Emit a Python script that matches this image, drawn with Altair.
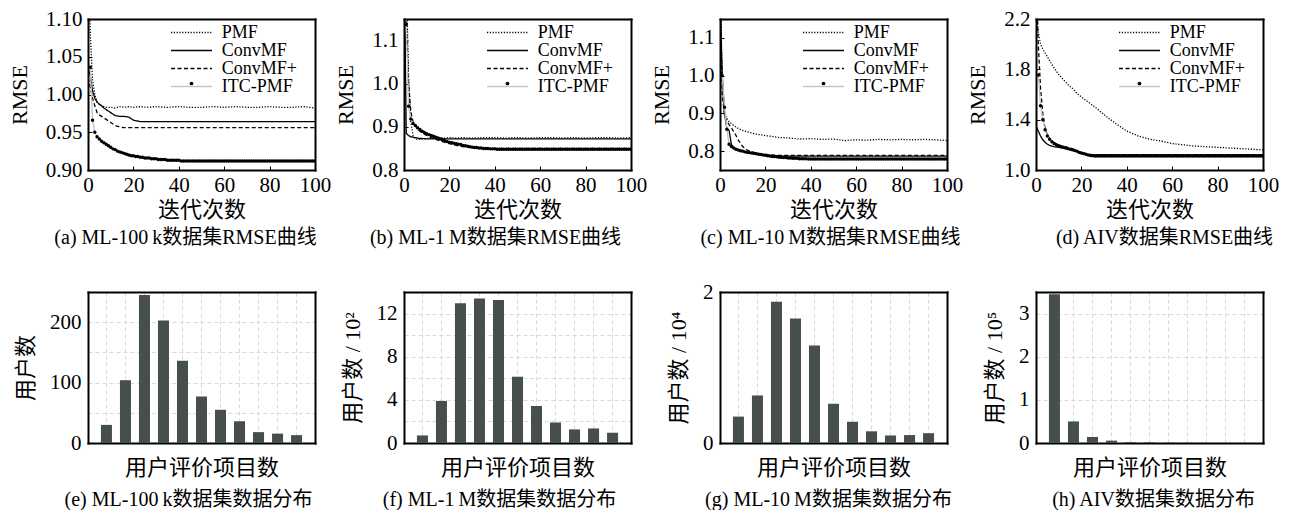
import altair as alt
import pandas as pd

FONT = "Liberation Serif, Noto Sans CJK SC"
SERIES = ["PMF", "ConvMF", "ConvMF+", "ITC-PMF"]
SERIES_STROKE = ["black", "black", "black", "#c4c4c4"]
SERIES_DASH = [[1.2, 1.6], [1, 0], [4, 2.5], [1, 0]]
X_TICKS = [0, 20, 40, 60, 80, 100]

# iteration positions of the sampled line points
GRID = [0, 1, 2, 3, 4, 5, 6, 7, 8, 10, 12, 14, 16, 18, 20, 23, 26, 30, 35, 40,
        45, 50, 55, 60, 65, 70, 75, 80, 85, 90, 95, 100]
ITERS = list(range(1, 101))

# ---------------- (a) ML-100k ----------------
PMF_A = [1.25, 1.08, 1.02, 1.000, 0.990, 0.987, 0.985, 0.984, 0.983, 0.983, 0.982, 0.984,
         0.983, 0.984, 0.983, 0.984, 0.983, 0.984, 0.983, 0.984, 0.983, 0.983, 0.984, 0.983,
         0.984, 0.983, 0.983, 0.984, 0.983, 0.983, 0.984, 0.982]
CONV_A = [1.036, 1.025, 1.005, 0.995, 0.990, 0.987, 0.985, 0.982, 0.980, 0.976, 0.972, 0.971,
          0.971, 0.970, 0.966, 0.964, 0.964, 0.964, 0.964, 0.964, 0.964, 0.964, 0.964, 0.964,
          0.964, 0.964, 0.964, 0.964, 0.964, 0.964, 0.964, 0.964]
CONVP_A = [1.022, 1.010, 0.995, 0.985, 0.976, 0.973, 0.971, 0.969, 0.967, 0.963, 0.959, 0.957,
           0.956, 0.956, 0.956, 0.956, 0.956, 0.956, 0.956, 0.956, 0.956, 0.956, 0.956, 0.956,
           0.956, 0.956, 0.956, 0.956, 0.956, 0.956, 0.956, 0.956]
ITC_A = [1.036, 0.966, 0.950, 0.944, 0.941, 0.938, 0.936, 0.934, 0.932, 0.930,
         0.928, 0.927, 0.925, 0.924, 0.923, 0.922, 0.921, 0.920, 0.919, 0.919,
         0.918, 0.918, 0.917, 0.917, 0.916, 0.916, 0.916, 0.915, 0.915, 0.915,
         0.914, 0.914, 0.914, 0.914, 0.913, 0.913, 0.913, 0.913, 0.913, 0.913,
         0.912, 0.912, 0.912, 0.912, 0.912, 0.912, 0.912, 0.912, 0.912, 0.912,
         0.912, 0.912, 0.912, 0.912, 0.912, 0.912, 0.912, 0.912, 0.912, 0.912,
         0.912, 0.912, 0.912, 0.912, 0.912, 0.912, 0.912, 0.912, 0.912, 0.912,
         0.912, 0.912, 0.912, 0.912, 0.912, 0.912, 0.912, 0.912, 0.912, 0.912,
         0.912, 0.912, 0.912, 0.912, 0.912, 0.912, 0.912, 0.912, 0.912, 0.912,
         0.912, 0.912, 0.912, 0.912, 0.912, 0.912, 0.912, 0.912, 0.912, 0.912]

# ---------------- (b) ML-1M ----------------
PMF_B = [1.40, 1.25, 1.02, 0.910, 0.880, 0.872, 0.871, 0.871, 0.872, 0.873, 0.874, 0.874,
         0.875, 0.874, 0.875, 0.874, 0.875, 0.874, 0.875, 0.875, 0.874, 0.875, 0.874, 0.875,
         0.875, 0.874, 0.875, 0.874, 0.875, 0.875, 0.874, 0.875]
CONV_B = [1.30, 0.885, 0.880, 0.877, 0.876, 0.875, 0.874, 0.873, 0.873, 0.872, 0.872, 0.872,
          0.872, 0.872, 0.872, 0.872, 0.872, 0.872, 0.872, 0.872, 0.872, 0.872, 0.872, 0.872,
          0.872, 0.872, 0.872, 0.872, 0.872, 0.872, 0.872, 0.872]
CONVP_B = [1.40, 1.16, 1.00, 0.935, 0.912, 0.902, 0.895, 0.890, 0.886, 0.880, 0.875, 0.871,
           0.867, 0.864, 0.861, 0.857, 0.854, 0.852, 0.850, 0.850, 0.850, 0.850, 0.850, 0.850,
           0.850, 0.850, 0.850, 0.850, 0.850, 0.850, 0.850, 0.850]
ITC_B = [1.137, 0.948, 0.918, 0.908, 0.903, 0.898, 0.894, 0.890, 0.887, 0.884,
         0.882, 0.880, 0.878, 0.876, 0.874, 0.872, 0.870, 0.868, 0.866, 0.864,
         0.863, 0.862, 0.861, 0.860, 0.859, 0.857, 0.856, 0.855, 0.854, 0.853,
         0.852, 0.852, 0.851, 0.851, 0.850, 0.850, 0.850, 0.849, 0.849, 0.849,
         0.848, 0.848, 0.848, 0.848, 0.848, 0.848, 0.848, 0.848, 0.848, 0.848,
         0.848, 0.848, 0.848, 0.848, 0.848, 0.848, 0.848, 0.848, 0.848, 0.848,
         0.848, 0.848, 0.848, 0.848, 0.848, 0.848, 0.848, 0.848, 0.848, 0.848,
         0.848, 0.848, 0.848, 0.848, 0.848, 0.848, 0.848, 0.848, 0.848, 0.848,
         0.848, 0.848, 0.848, 0.848, 0.848, 0.848, 0.848, 0.848, 0.848, 0.848,
         0.848, 0.848, 0.848, 0.848, 0.848, 0.848, 0.848, 0.848, 0.848, 0.848]

# ---------------- (c) ML-10M ----------------
PMF_C = [1.30, 0.97, 0.90, 0.887, 0.878, 0.873, 0.868, 0.864, 0.860, 0.855, 0.851, 0.848,
         0.845, 0.843, 0.841, 0.839, 0.836, 0.835, 0.832, 0.833, 0.831, 0.832, 0.828, 0.830,
         0.829, 0.831, 0.830, 0.831, 0.830, 0.831, 0.830, 0.828]
CONV_C = [1.20, 1.00, 0.90, 0.860, 0.855, 0.818, 0.810, 0.806, 0.804, 0.800, 0.797, 0.795,
          0.793, 0.791, 0.789, 0.788, 0.787, 0.787, 0.787, 0.787, 0.787, 0.787, 0.787, 0.787,
          0.787, 0.787, 0.787, 0.787, 0.787, 0.787, 0.787, 0.787]
CONVP_C = [1.20, 0.95, 0.895, 0.880, 0.870, 0.862, 0.852, 0.842, 0.830, 0.812, 0.803, 0.798,
           0.795, 0.793, 0.791, 0.790, 0.789, 0.789, 0.789, 0.789, 0.789, 0.789, 0.789, 0.789,
           0.789, 0.789, 0.789, 0.789, 0.789, 0.789, 0.789, 0.789]
ITC_C = [1.000, 0.916, 0.858, 0.818, 0.812, 0.808, 0.805, 0.803, 0.801, 0.800,
         0.798, 0.797, 0.796, 0.795, 0.794, 0.793, 0.792, 0.791, 0.790, 0.789,
         0.788, 0.787, 0.786, 0.786, 0.785, 0.784, 0.784, 0.783, 0.783, 0.782,
         0.782, 0.781, 0.781, 0.781, 0.780, 0.780, 0.780, 0.780, 0.779, 0.779,
         0.779, 0.779, 0.779, 0.779, 0.779, 0.779, 0.779, 0.779, 0.779, 0.779,
         0.779, 0.779, 0.779, 0.779, 0.779, 0.779, 0.779, 0.779, 0.779, 0.779,
         0.779, 0.779, 0.779, 0.779, 0.779, 0.779, 0.779, 0.779, 0.779, 0.779,
         0.779, 0.779, 0.779, 0.779, 0.779, 0.779, 0.779, 0.779, 0.779, 0.779,
         0.779, 0.779, 0.779, 0.779, 0.779, 0.779, 0.779, 0.779, 0.779, 0.779,
         0.779, 0.779, 0.779, 0.779, 0.779, 0.779, 0.779, 0.779, 0.779, 0.779]

# ---------------- (d) AIV ----------------
PMF_D = [2.30, 2.10, 2.00, 1.96, 1.93, 1.90, 1.87, 1.84, 1.81, 1.76, 1.72, 1.68,
         1.65, 1.61, 1.58, 1.54, 1.50, 1.44, 1.37, 1.31, 1.27, 1.245, 1.23, 1.21,
         1.20, 1.19, 1.185, 1.18, 1.175, 1.17, 1.165, 1.16]
CONV_D = [1.35, 1.31, 1.27, 1.24, 1.22, 1.205, 1.195, 1.19, 1.185, 1.18, 1.175, 1.17,
          1.16, 1.15, 1.135, 1.12, 1.12, 1.12, 1.12, 1.12, 1.12, 1.12, 1.12, 1.12,
          1.12, 1.12, 1.12, 1.12, 1.12, 1.12, 1.12, 1.12]
CONVP_D = [2.60, 2.00, 1.65, 1.45, 1.33, 1.28, 1.25, 1.23, 1.215, 1.20, 1.19, 1.18,
           1.17, 1.155, 1.14, 1.125, 1.12, 1.12, 1.12, 1.12, 1.12, 1.12, 1.12, 1.12,
           1.12, 1.12, 1.12, 1.12, 1.12, 1.12, 1.12, 1.12]
ITC_D = [1.755, 1.510, 1.400, 1.320, 1.270, 1.245, 1.225, 1.210, 1.200, 1.190,
         1.185, 1.180, 1.175, 1.170, 1.165, 1.160, 1.155, 1.150, 1.140, 1.135,
         1.130, 1.125, 1.120, 1.116, 1.113, 1.112, 1.112, 1.112, 1.112, 1.112,
         1.112, 1.112, 1.112, 1.112, 1.112, 1.112, 1.112, 1.112, 1.112, 1.112,
         1.112, 1.112, 1.112, 1.112, 1.112, 1.112, 1.112, 1.112, 1.112, 1.112,
         1.112, 1.112, 1.112, 1.112, 1.112, 1.112, 1.112, 1.112, 1.112, 1.112,
         1.112, 1.112, 1.112, 1.112, 1.112, 1.112, 1.112, 1.112, 1.112, 1.112,
         1.112, 1.112, 1.112, 1.112, 1.112, 1.112, 1.112, 1.112, 1.112, 1.112,
         1.112, 1.112, 1.112, 1.112, 1.112, 1.112, 1.112, 1.112, 1.112, 1.112,
         1.112, 1.112, 1.112, 1.112, 1.112, 1.112, 1.112, 1.112, 1.112, 1.112]

# ---------------- bar charts (user counts per rating-count bin) ----------------
BINS = [1, 2, 3, 4, 5, 6, 7, 8, 9, 10, 11]
USERS_E = [30, 104, 245, 203, 136, 77, 55, 36, 18, 15.5, 13]
USERS_F = [0.7, 3.9, 12.95, 13.4, 13.25, 6.15, 3.42, 1.9, 1.26, 1.35, 0.95]
USERS_G = [0.35, 0.63, 1.87, 1.65, 1.29, 0.52, 0.28, 0.155, 0.10, 0.105, 0.13]
USERS_H = [3.45, 0.5, 0.14, 0.055, 0.02, 0.015, 0.008, 0.005, 0.004, 0.003, 0.002]

BAR_COLOR = "#464e4e"
W, H = 227, 151


def frame_axis(orient):
    # top / right axes that only draw their domain line: closes the plot frame
    return alt.Axis(orient=orient, labels=False, ticks=False, grid=False, title=None,
                    domain=True, domainColor="black", domainWidth=2, domainCap="square")


def tick_axis(orient, values):
    # short inward-pointing ticks (axis pulled 4 px into the plot, ticks point back out)
    return alt.Axis(orient=orient, values=values, labels=False, ticks=True, tickSize=4,
                    offset=-4, domain=False, grid=False, title=None)


def caption(text, dx, offset):
    return alt.TitleParams(text=text, orient="bottom", anchor="middle", frame="group",
                           dx=dx, offset=offset, font=FONT, fontSize=20,
                           fontWeight="normal", color="black")


def rmse_panel(pmf, conv, convp, itc, ydom, yticks, yfmt, cap, dx):
    rows = []
    for name, vals in zip(SERIES[:3], (pmf, conv, convp)):
        rows += [{"iter": x, "rmse": v, "series": name} for x, v in zip(GRID, vals)]
    rows += [{"iter": x, "rmse": v, "series": "ITC-PMF"} for x, v in zip(ITERS, itc)]
    df = pd.DataFrame(rows)
    xs = alt.Scale(domain=[0, 100], nice=False, zero=False)
    ys = alt.Scale(domain=ydom, nice=False, zero=False)
    x = alt.X("iter:Q", scale=xs,
              axis=alt.Axis(orient="bottom", values=X_TICKS, format="d", title="迭代次数",
                            ticks=False, labelPadding=4, titlePadding=4, labelFlush=False,
                            domain=True, domainColor="black", domainWidth=2,
                            domainCap="square", grid=False))
    y = alt.Y("rmse:Q", scale=ys,
              axis=alt.Axis(orient="left", values=yticks, format=yfmt, title="RMSE",
                            ticks=False, labelPadding=6, titlePadding=14,
                            domain=True, domainColor="black", domainWidth=2,
                            domainCap="square", grid=False))
    leg = alt.Legend(orient="none", legendX=82, legendY=5, title=None,
                     symbolType="stroke", symbolSize=1680, symbolStrokeWidth=1.3,
                     clipHeight=17, rowPadding=-1, padding=0, labelOffset=8.7,
                     labelAlign="left", labelFontSize=18, labelFont=FONT)
    leg_dot = alt.Legend(orient="none", legendX=94.5, legendY=56, title=None,
                         symbolType="circle", symbolSize=14, symbolStrokeWidth=0,
                         clipHeight=17, padding=0, labelExpr="''",
                         labelFontSize=18, labelFont=FONT)
    lines = alt.Chart(df).mark_line(clip=True, strokeWidth=1.3).encode(
        x=x, y=y,
        color=alt.Color("series:N", scale=alt.Scale(domain=SERIES, range=SERIES_STROKE),
                        legend=leg),
        strokeDash=alt.StrokeDash("series:N",
                                  scale=alt.Scale(domain=SERIES, range=SERIES_DASH),
                                  legend=leg),
    )
    itc_df = alt.Chart(df).transform_filter(alt.datum.series == "ITC-PMF")
    dots = itc_df.mark_circle(clip=True, size=12, opacity=1).encode(
        x=alt.X("iter:Q", scale=xs, axis=frame_axis("top")),
        y=alt.Y("rmse:Q", scale=ys, axis=frame_axis("right")),
        fill=alt.Fill("series:N", scale=alt.Scale(range=["black"]), legend=leg_dot),
    )
    ticks = itc_df.mark_point(opacity=0).encode(
        x=alt.X("iter:Q", scale=xs, axis=tick_axis("bottom", X_TICKS)),
        y=alt.Y("rmse:Q", scale=ys, axis=tick_axis("left", yticks)),
    )
    return alt.layer(lines, dots, ticks).resolve_axis(
        x="independent", y="independent").properties(
        width=W, height=H, title=caption(cap, dx, 8))


def bar_panel(vals, ymax, grid_vals, label_vals, ytitle, cap, dx):
    df = pd.DataFrame({"bin": BINS, "users": vals})
    expr = "indexof(" + str(label_vals) + ", datum.value) >= 0 ? datum.label : ''"
    xs = alt.Scale(paddingInner=0.42, paddingOuter=0.68)
    ys = alt.Scale(domain=[0, ymax], nice=False)
    bars = alt.Chart(df).mark_bar(color=BAR_COLOR).encode(
        x=alt.X("bin:O", scale=xs,
                axis=alt.Axis(orient="bottom", labels=False, ticks=False, grid=True,
                              domain=True, domainColor="black", domainWidth=2,
                              domainCap="square", title="用户评价项目数", titlePadding=14)),
        y=alt.Y("users:Q", scale=ys,
                axis=alt.Axis(orient="left", values=grid_vals, labelExpr=expr, format="d",
                              ticks=False, domain=True, domainColor="black", domainWidth=2,
                              domainCap="square", grid=True, labelPadding=7, title=ytitle,
                              titlePadding=12)),
    )
    frame = alt.Chart(df).mark_bar(opacity=0).encode(
        x=alt.X("bin:O", scale=xs, axis=frame_axis("top")),
        y=alt.Y("users:Q", scale=ys, axis=frame_axis("right")),
    )
    return alt.layer(bars, frame).resolve_axis(x="independent", y="independent").properties(
        width=W, height=H, title=caption(cap, dx, 12))


pa = rmse_panel(PMF_A, CONV_A, CONVP_A, ITC_A, [0.90, 1.10], [0.90, 0.95, 1.00, 1.05, 1.10],
                ".2f", "(a) ML-100\u2009k数据集RMSE曲线", -16)
pb = rmse_panel(PMF_B, CONV_B, CONVP_B, ITC_B, [0.8, 1.15], [0.8, 0.9, 1.0, 1.1],
                ".1f", "(b) ML-1\u2009M数据集RMSE曲线", -22)
pc = rmse_panel(PMF_C, CONV_C, CONVP_C, ITC_C, [0.75, 1.15], [0.8, 0.9, 1.0, 1.1],
                ".1f", "(c) ML-10\u2009M数据集RMSE曲线", -3)
pd_ = rmse_panel(PMF_D, CONV_D, CONVP_D, ITC_D, [1.0, 2.2], [1.0, 1.4, 1.8, 2.2],
                 ".1f", "(d) AIV数据集RMSE曲线", 15)

pe = bar_panel(USERS_E, 250, [0, 50, 100, 150, 200, 250], [0, 100, 200], "用户数",
               "(e) ML-100\u2009k数据集数据分布", -13)
pf = bar_panel(USERS_F, 14, [0, 2, 4, 6, 8, 10, 12, 14], [0, 4, 8, 12], "用户数 / 10²",
               "(f) ML-1\u2009M数据集数据分布", -18)
pg = bar_panel(USERS_G, 2, [0, 0.2, 0.4, 0.6, 0.8, 1, 1.2, 1.4, 1.6, 1.8, 2], [0, 1, 2],
               "用户数 / 10⁴", "(g) ML-10\u2009M数据集数据分布", -5)
ph = bar_panel(USERS_H, 3.5, [0, 0.5, 1, 1.5, 2, 2.5, 3, 3.5], [0, 1, 2, 3], "用户数 / 10⁵",
               "(h) AIV数据集数据分布", 4)

chart = alt.concat(pa, pb, pc, pd_, pe, pf, pg, ph, columns=4,
                   spacing=alt.RowColnumber(row=122, column=89), bounds="flush").resolve_scale(
    color="independent", strokeDash="independent", fill="independent",
    x="independent", y="independent",
).resolve_legend(
    color="independent", strokeDash="independent", fill="independent",
).properties(
    padding={"left": 0, "top": 0, "right": 0, "bottom": 0},
    background="white",
).configure_view(
    stroke=None
).configure_axis(
    labelFont=FONT, labelFontSize=21, labelColor="black",
    titleFont=FONT, titleFontSize=22, titleColor="black", titleFontWeight="normal",
    tickColor="black", tickWidth=1,
    gridColor="#d9d9d9", gridDash=[4, 3], gridWidth=1,
).configure_legend(
    labelColor="black",
)

chart.save("out.html", embed_options={"renderer": "svg", "actions": False})
